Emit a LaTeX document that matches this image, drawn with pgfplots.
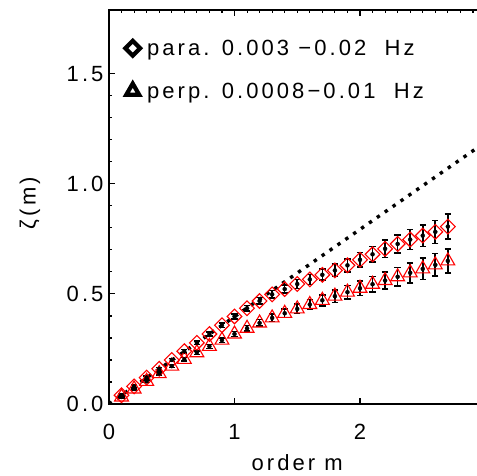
\documentclass[border=0pt]{standalone}
\usepackage{fontspec}
\setmainfont{Liberation Sans}[LetterSpace=14]
\usepackage{pgfplots}
\usepackage{pgfplotstable}
\pgfplotsset{compat=1.18}

% para. series: order m, zeta(m), error
\pgfplotstableread{
m   y     e
0.1 0.040 0.005
0.2 0.080 0.005
0.3 0.120 0.006
0.4 0.160 0.006
0.5 0.200 0.007
0.6 0.240 0.008
0.7 0.278 0.008
0.8 0.318 0.009
0.9 0.358 0.011
1.0 0.398 0.012
1.1 0.435 0.013
1.2 0.468 0.015
1.3 0.498 0.017
1.4 0.522 0.019
1.5 0.545 0.021
1.6 0.566 0.023
1.7 0.587 0.025
1.8 0.607 0.028
1.9 0.630 0.030
2.0 0.655 0.033
2.1 0.680 0.036
2.2 0.705 0.039
2.3 0.727 0.042
2.4 0.747 0.045
2.5 0.765 0.049
2.6 0.782 0.052
2.7 0.806 0.056
}\paradata

% perp. series
\pgfplotstableread{
m   y     e
0.1 0.032 0.005
0.2 0.068 0.005
0.3 0.103 0.006
0.4 0.138 0.006
0.5 0.172 0.007
0.6 0.203 0.008
0.7 0.233 0.008
0.8 0.262 0.009
0.9 0.290 0.011
1.0 0.318 0.012
1.1 0.344 0.013
1.2 0.368 0.015
1.3 0.391 0.017
1.4 0.412 0.019
1.5 0.432 0.021
1.6 0.452 0.023
1.7 0.471 0.025
1.8 0.490 0.028
1.9 0.508 0.030
2.0 0.526 0.033
2.1 0.544 0.036
2.2 0.561 0.039
2.3 0.578 0.042
2.4 0.596 0.045
2.5 0.614 0.048
2.6 0.632 0.051
2.7 0.650 0.055
}\perpdata

\begin{document}
\begin{tikzpicture}
\useasboundingbox (0,0) rectangle (477pt,476pt);
\clip (0,0) rectangle (477pt,476pt);
\begin{axis}[
  at={(109pt,72pt)}, anchor=south west,
  scale only axis, width=376.5pt, height=394pt,
  xmin=0, xmax=3, ymin=0, ymax=1.79,
  axis line style={line width=1.3pt},
  every tick/.style={black, line width=1.1pt},
  major tick length=6pt, minor tick length=3pt,
  tick align=inside,
  xtick={0,1,2,3}, xticklabels={0,1,2,{}}, xtick pos=bottom,
  ytick={0,0.5,1,1.5}, minor y tick num=4, ytick pos=left,
  /pgf/number format/assume math mode=true,
  y tick label style={/pgf/number format/.cd, fixed, fixed zerofill, precision=1, /tikz/.cd, xshift=-2pt},
  tick label style={font=\fontsize{22}{26}\selectfont},
  x tick label style={yshift=-17pt},
  xlabel={order m}, ylabel={ζ(m)},
  every axis x label/.style={at={(axis description cs:0.5,-0.148)}, anchor=center,
    font=\fontsize{22}{26}\selectfont},
  every axis y label/.style={at={(axis description cs:-0.21,0.51)}, rotate=90, anchor=center,
    font=\fontsize{22}{26}\selectfont},
  legend cell align=left,
  legend style={at={(rel axis cs:0.035,0.935)}, anchor=north west, draw=none, fill=none,
    font=\fontsize{22}{26}\selectfont, row sep=22pt,
    /tikz/every odd column/.append style={column sep=5pt}},
]
\addlegendimage{only marks, black, mark=square, mark size=5.2pt, mark options={rotate=45, black, line width=4.2pt}}
\addlegendentry{para. 0.003 −0.02\ \ Hz}
\addlegendimage{only marks, black, mark=triangle, mark size=7.5pt, mark options={black, line width=4.2pt}}
\addlegendentry{perp. 0.0008−0.01\ \ Hz}

% reference line
\addplot[black, line width=3.4pt, dash pattern=on 3.4pt off 6.2pt, forget plot]
  coordinates {(0,0) (3,1.19)};

\addplot[red, only marks, mark=square, mark size=5.2pt, mark options={rotate=45, line width=1.1pt}, forget plot]
  table[x=m, y=y] {\paradata};
\addplot[red, only marks, mark=triangle, mark size=8pt, mark options={line width=1.1pt}, forget plot]
  table[x=m, y=y] {\perpdata};

\addplot[only marks, mark=none, forget plot,
  error bars/.cd, y dir=both, y explicit,
  error bar style={draw=black, line width=1.6pt},
  error mark options={rotate=90, mark size=3.2pt, draw=black, line width=1.6pt}]
  table[x=m, y=y, y error=e] {\paradata};
\addplot[only marks, mark=none, forget plot,
  error bars/.cd, y dir=both, y explicit,
  error bar style={draw=black, line width=1.6pt},
  error mark options={rotate=90, mark size=3.2pt, draw=black, line width=1.6pt}]
  table[x=m, y=y, y error=e] {\perpdata};
\end{axis}
\begin{axis}[
  at={(109pt,72pt)}, anchor=south west,
  scale only axis, width=376.5pt, height=394pt,
  xmin=0, xmax=3, ymin=0, ymax=1.79,
  axis x line*=top, hide y axis,
  axis line style={line width=1.3pt},
  every tick/.style={black, line width=1.1pt},
  major tick length=6pt, minor tick length=3pt,
  tick align=inside,
  xtick={0,1,2,3}, minor x tick num=9, xticklabels={},
]
\end{axis}
\end{tikzpicture}
\end{document}
